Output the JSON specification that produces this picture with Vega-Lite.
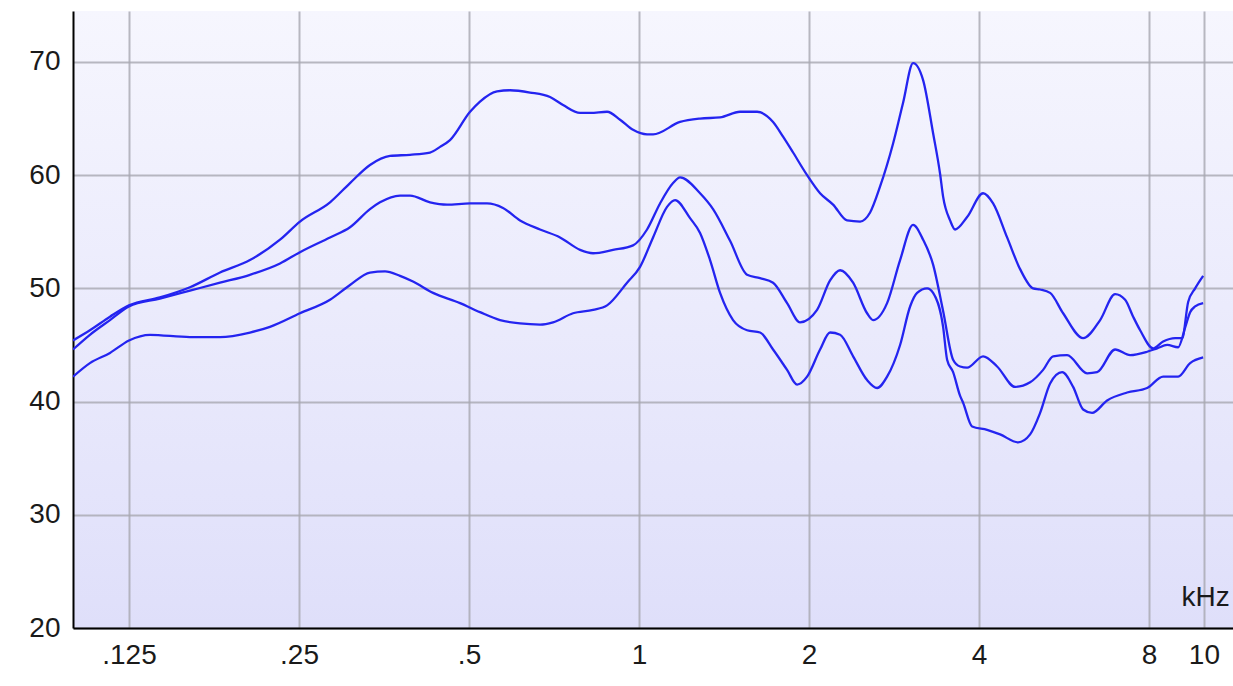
{
  "$schema": "https://vega.github.io/schema/vega-lite/v6.json",
  "width": 1160,
  "height": 617,
  "autosize": "none",
  "padding": {"left": 73, "top": 11, "right": 0, "bottom": 58},
  "background": "#ffffff",
  "config": {
    "view": {
      "stroke": null,
      "fill": {"gradient": "linear", "x1": 0, "y1": 0, "x2": 0, "y2": 1,
        "stops": [{"offset": 0, "color": "#f6f6fe"}, {"offset": 1, "color": "#dfdffa"}]}
    },
    "axis": {
      "labelFont": "Liberation Sans",
      "labelFontSize": 28,
      "labelColor": "#1a1a1a",
      "ticks": false,
      "domainColor": "#000000",
      "domainWidth": 2,
      "gridColor": "#a8a8b0",
      "gridWidth": 2,
      "gridOpacity": 0.8
    }
  },
  "data": {"values": [
    {"s":"A","f":0.0995,"db":45.4},{"s":"A","f":0.1066,"db":46.3},{"s":"A","f":0.1157,"db":47.5},{"s":"A","f":0.125,"db":48.5},
    {"s":"A","f":0.1418,"db":49.2},{"s":"A","f":0.1603,"db":50.1},{"s":"A","f":0.1812,"db":51.4},{"s":"A","f":0.2047,"db":52.5},
    {"s":"A","f":0.2314,"db":54.3},{"s":"A","f":0.251,"db":55.9},{"s":"A","f":0.2837,"db":57.6},{"s":"A","f":0.3078,"db":59.3},
    {"s":"A","f":0.3339,"db":60.9},{"s":"A","f":0.3623,"db":61.7},{"s":"A","f":0.3931,"db":61.8},{"s":"A","f":0.4265,"db":62.0},
    {"s":"A","f":0.4443,"db":62.5},{"s":"A","f":0.4627,"db":63.1},{"s":"A","f":0.5021,"db":65.6},{"s":"A","f":0.5229,"db":66.5},
    {"s":"A","f":0.5605,"db":67.4},{"s":"A","f":0.591,"db":67.5},{"s":"A","f":0.6412,"db":67.3},{"s":"A","f":0.6957,"db":66.9},
    {"s":"A","f":0.7336,"db":66.2},{"s":"A","f":0.7862,"db":65.5},{"s":"A","f":0.82,"db":65.5},{"s":"A","f":0.8777,"db":65.6},
    {"s":"A","f":0.9254,"db":64.9},{"s":"A","f":0.9758,"db":64.0},{"s":"A","f":1.0331,"db":63.6},{"s":"A","f":1.0587,"db":63.6},
    {"s":"A","f":1.1819,"db":64.7},{"s":"A","f":1.2823,"db":65.0},{"s":"A","f":1.3913,"db":65.1},{"s":"A","f":1.5095,"db":65.6},
    {"s":"A","f":1.6178,"db":65.6},{"s":"A","f":1.7269,"db":64.7},{"s":"A","f":1.7987,"db":63.4},{"s":"A","f":1.8736,"db":62.0},
    {"s":"A","f":1.9837,"db":60.0},{"s":"A","f":2.0916,"db":58.4},{"s":"A","f":2.2055,"db":57.4},{"s":"A","f":2.3351,"db":56.0},
    {"s":"A","f":2.4623,"db":55.9},{"s":"A","f":2.5647,"db":56.7},{"s":"A","f":2.6714,"db":59.0},{"s":"A","f":2.8168,"db":62.8},
    {"s":"A","f":2.934,"db":66.4},{"s":"A","f":3.0561,"db":69.9},{"s":"A","f":3.1833,"db":68.4},{"s":"A","f":3.3158,"db":63.7},
    {"s":"A","f":3.4118,"db":60.1},{"s":"A","f":3.4538,"db":58.1},{"s":"A","f":3.5538,"db":56.0},{"s":"A","f":3.627,"db":55.2},
    {"s":"A","f":3.8088,"db":56.3},{"s":"A","f":4.0656,"db":58.4},{"s":"A","f":4.2348,"db":57.5},{"s":"A","f":4.4835,"db":54.5},
    {"s":"A","f":4.7275,"db":51.7},{"s":"A","f":4.9849,"db":50.0},{"s":"A","f":5.1292,"db":49.9},{"s":"A","f":5.3426,"db":49.6},
    {"s":"A","f":5.6335,"db":47.8},{"s":"A","f":6.1121,"db":45.6},{"s":"A","f":6.5509,"db":47.2},{"s":"A","f":6.9641,"db":49.5},
    {"s":"A","f":7.2539,"db":49.0},{"s":"A","f":7.4944,"db":47.5},{"s":"A","f":7.7114,"db":46.3},{"s":"A","f":8.1313,"db":44.7},
    {"s":"A","f":8.4696,"db":45.3},{"s":"A","f":8.8943,"db":45.6},{"s":"A","f":9.152,"db":45.6},{"s":"A","f":9.379,"db":48.8},
    {"s":"A","f":9.65,"db":50.0},{"s":"A","f":9.97,"db":51.1},

    {"s":"B","f":0.0995,"db":44.6},{"s":"B","f":0.1066,"db":45.9},{"s":"B","f":0.1157,"db":47.2},{"s":"B","f":0.125,"db":48.4},
    {"s":"B","f":0.1418,"db":49.1},{"s":"B","f":0.1603,"db":49.8},{"s":"B","f":0.1812,"db":50.5},{"s":"B","f":0.2047,"db":51.2},
    {"s":"B","f":0.2314,"db":52.2},{"s":"B","f":0.251,"db":53.2},{"s":"B","f":0.2837,"db":54.5},{"s":"B","f":0.3078,"db":55.4},
    {"s":"B","f":0.3339,"db":57.0},{"s":"B","f":0.3478,"db":57.6},{"s":"B","f":0.3774,"db":58.2},{"s":"B","f":0.3931,"db":58.2},
    {"s":"B","f":0.4265,"db":57.6},{"s":"B","f":0.4571,"db":57.4},{"s":"B","f":0.5021,"db":57.5},{"s":"B","f":0.5381,"db":57.5},
    {"s":"B","f":0.5743,"db":57.1},{"s":"B","f":0.6156,"db":56.0},{"s":"B","f":0.6679,"db":55.2},{"s":"B","f":0.7246,"db":54.5},
    {"s":"B","f":0.7862,"db":53.4},{"s":"B","f":0.829,"db":53.1},{"s":"B","f":0.8994,"db":53.4},{"s":"B","f":0.9758,"db":53.8},
    {"s":"B","f":1.0331,"db":55.2},{"s":"B","f":1.0893,"db":57.5},{"s":"B","f":1.1487,"db":59.3},{"s":"B","f":1.1819,"db":59.8},
    {"s":"B","f":1.2823,"db":58.4},{"s":"B","f":1.3521,"db":57.0},{"s":"B","f":1.4492,"db":54.2},{"s":"B","f":1.5532,"db":51.2},
    {"s":"B","f":1.6377,"db":50.9},{"s":"B","f":1.7269,"db":50.5},{"s":"B","f":1.8283,"db":48.7},{"s":"B","f":1.9278,"db":47.0},
    {"s":"B","f":2.0662,"db":48.1},{"s":"B","f":2.1787,"db":50.7},{"s":"B","f":2.2694,"db":51.6},{"s":"B","f":2.393,"db":50.5},
    {"s":"B","f":2.5335,"db":47.8},{"s":"B","f":2.5962,"db":47.2},{"s":"B","f":2.7487,"db":48.7},{"s":"B","f":2.8984,"db":52.5},
    {"s":"B","f":3.0561,"db":55.6},{"s":"B","f":3.1833,"db":54.3},{"s":"B","f":3.3158,"db":52.1},{"s":"B","f":3.4538,"db":48.0},
    {"s":"B","f":3.5975,"db":43.7},{"s":"B","f":3.7017,"db":43.1},{"s":"B","f":3.8088,"db":43.0},{"s":"B","f":4.0656,"db":44.0},
    {"s":"B","f":4.3044,"db":43.1},{"s":"B","f":4.6321,"db":41.3},{"s":"B","f":4.9242,"db":41.7},{"s":"B","f":5.1923,"db":42.8},
    {"s":"B","f":5.4083,"db":44.0},{"s":"B","f":5.7261,"db":44.1},{"s":"B","f":6.2126,"db":42.5},{"s":"B","f":6.4712,"db":42.6},
    {"s":"B","f":6.9641,"db":44.6},{"s":"B","f":7.4034,"db":44.1},{"s":"B","f":7.9346,"db":44.4},{"s":"B","f":8.265,"db":44.7},
    {"s":"B","f":8.6089,"db":45.0},{"s":"B","f":9.0038,"db":44.8},{"s":"B","f":9.26,"db":46.5},{"s":"B","f":9.455,"db":47.9},
    {"s":"B","f":9.65,"db":48.4},{"s":"B","f":9.97,"db":48.7},

    {"s":"C","f":0.0995,"db":42.2},{"s":"C","f":0.1066,"db":43.4},{"s":"C","f":0.1157,"db":44.3},{"s":"C","f":0.125,"db":45.4},
    {"s":"C","f":0.1362,"db":45.9},{"s":"C","f":0.1603,"db":45.7},{"s":"C","f":0.1812,"db":45.7},{"s":"C","f":0.2047,"db":46.1},
    {"s":"C","f":0.2221,"db":46.6},{"s":"C","f":0.251,"db":47.8},{"s":"C","f":0.2837,"db":49.0},{"s":"C","f":0.3078,"db":50.3},
    {"s":"C","f":0.3339,"db":51.4},{"s":"C","f":0.355,"db":51.5},{"s":"C","f":0.3774,"db":51.1},{"s":"C","f":0.3979,"db":50.6},
    {"s":"C","f":0.4318,"db":49.6},{"s":"C","f":0.482,"db":48.7},{"s":"C","f":0.5229,"db":47.9},{"s":"C","f":0.5674,"db":47.2},
    {"s":"C","f":0.6156,"db":46.9},{"s":"C","f":0.6679,"db":46.8},{"s":"C","f":0.7042,"db":47.0},{"s":"C","f":0.764,"db":47.8},
    {"s":"C","f":0.829,"db":48.1},{"s":"C","f":0.8777,"db":48.5},{"s":"C","f":0.9522,"db":50.5},{"s":"C","f":1.004,"db":51.9},
    {"s":"C","f":1.0587,"db":54.5},{"s":"C","f":1.1209,"db":57.2},{"s":"C","f":1.158,"db":57.8},{"s":"C","f":1.2311,"db":56.2},
    {"s":"C","f":1.2823,"db":54.9},{"s":"C","f":1.3357,"db":52.5},{"s":"C","f":1.3913,"db":49.6},{"s":"C","f":1.467,"db":47.2},
    {"s":"C","f":1.5532,"db":46.3},{"s":"C","f":1.6377,"db":46.1},{"s":"C","f":1.7269,"db":44.6},{"s":"C","f":1.8283,"db":42.8},
    {"s":"C","f":1.9045,"db":41.5},{"s":"C","f":1.9837,"db":42.2},{"s":"C","f":2.0916,"db":44.6},{"s":"C","f":2.1787,"db":46.1},
    {"s":"C","f":2.2694,"db":45.9},{"s":"C","f":2.393,"db":44.0},{"s":"C","f":2.5335,"db":41.9},{"s":"C","f":2.6389,"db":41.2},
    {"s":"C","f":2.7487,"db":42.2},{"s":"C","f":2.8984,"db":45.0},{"s":"C","f":3.019,"db":48.4},{"s":"C","f":3.1064,"db":49.6},
    {"s":"C","f":3.2357,"db":50.0},{"s":"C","f":3.3158,"db":49.6},{"s":"C","f":3.4538,"db":46.6},{"s":"C","f":3.5106,"db":43.7},
    {"s":"C","f":3.5975,"db":42.6},{"s":"C","f":3.7017,"db":40.5},{"s":"C","f":3.7472,"db":39.9},{"s":"C","f":3.8873,"db":37.8},
    {"s":"C","f":4.1325,"db":37.5},{"s":"C","f":4.3574,"db":37.1},{"s":"C","f":4.6891,"db":36.4},{"s":"C","f":4.9242,"db":37.1},
    {"s":"C","f":5.1292,"db":39.0},{"s":"C","f":5.3426,"db":41.6},{"s":"C","f":5.6106,"db":42.6},{"s":"C","f":5.8679,"db":41.3},
    {"s":"C","f":6.1121,"db":39.3},{"s":"C","f":6.3406,"db":39.0},{"s":"C","f":6.7406,"db":40.1},{"s":"C","f":7.3133,"db":40.8},
    {"s":"C","f":7.9346,"db":41.2},{"s":"C","f":8.4696,"db":42.2},{"s":"C","f":9.0038,"db":42.2},{"s":"C","f":9.4553,"db":43.4},
    {"s":"C","f":9.9698,"db":43.9}
  ]},
  "mark": {"type": "line", "color": "#2424f0", "strokeWidth": 2.3, "interpolate": "monotone", "clip": true},
  "encoding": {
    "detail": {"field": "s", "type": "nominal"},
    "x": {
      "field": "f", "type": "quantitative",
      "scale": {"type": "log", "domain": [0.0995, 11.26], "nice": false},
      "axis": {
        "values": [0.125, 0.25, 0.5, 1, 2, 4, 8, 10],
        "labelExpr": "replace(toString(datum.value), '0.', '.')",
        "labelPadding": 13,
        "labelFlush": false,
        "title": "kHz",
        "titleFont": "Liberation Sans",
        "titleFontSize": 28,
        "titleFontWeight": "normal",
        "titleColor": "#1a1a1a",
        "titleAlign": "left",
        "titleBaseline": "middle",
        "titleAnchor": null,
        "titleX": 1108,
        "titleY": -31
      }
    },
    "y": {
      "field": "db", "type": "quantitative",
      "scale": {"domain": [20, 74.5], "nice": false, "zero": false},
      "axis": {
        "values": [20, 30, 40, 50, 60, 70],
        "labelPadding": 13,
        "labelFlush": false,
        "title": null
      }
    }
  }
}
